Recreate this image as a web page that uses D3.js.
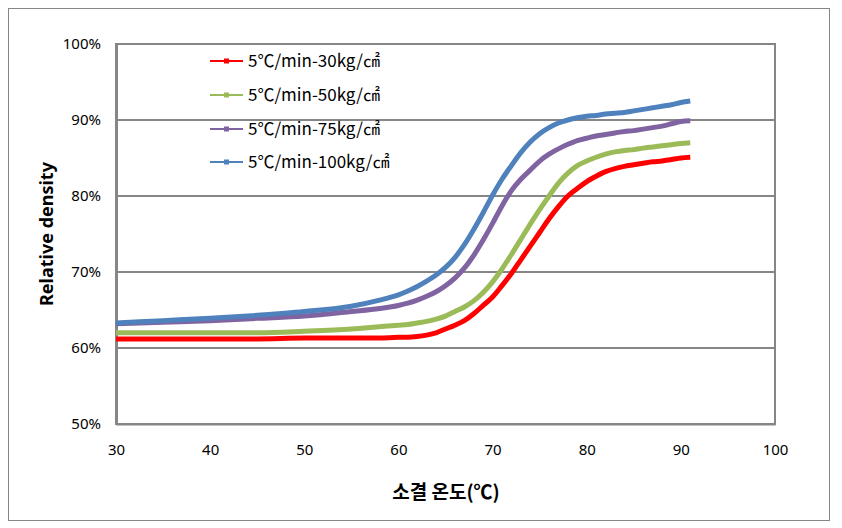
<!DOCTYPE html>
<html>
<head>
<meta charset="utf-8">
<script src="https://cdn.jsdelivr.net/npm/d3@7"></script>
<style>
  html, body { margin: 0; padding: 0; background: #fff; }
  svg { display: block; }
  text { font-family: "Noto Sans CJK KR", "Noto Sans", sans-serif; fill: #000; }
</style>
</head>
<body>
<svg id="chart" width="842" height="528"></svg>
<script>
// ---- data ----
const temps = [30,35,40,45,50,55,58,60,61,62,63,64,65,66,67,68,69,70,71,72,73,74,75,76,77,78,79,80,81,82,83,84,85,86,87,88,89,90,91];
const series30 = [61.2,61.2,61.2,61.2,61.3,61.3,61.3,61.4,61.4,61.5,61.7,62.0,62.5,63.0,63.6,64.5,65.6,66.7,68.2,69.8,71.6,73.4,75.2,77.0,78.6,80.0,81.0,81.9,82.6,83.2,83.6,83.9,84.1,84.3,84.5,84.6,84.8,85.0,85.1];
const series50 = [62.0,62.0,62.0,62.0,62.2,62.5,62.8,63.0,63.1,63.3,63.5,63.8,64.2,64.8,65.4,66.2,67.3,68.7,70.4,72.3,74.3,76.3,78.2,80.0,81.7,83.0,84.0,84.6,85.1,85.5,85.8,86.0,86.1,86.3,86.45,86.6,86.75,86.9,87.0];
const series75 = [63.2,63.4,63.6,63.9,64.2,64.8,65.2,65.6,65.9,66.3,66.8,67.4,68.2,69.2,70.5,72.2,74.2,76.4,78.7,80.7,82.2,83.4,84.6,85.5,86.2,86.8,87.3,87.6,87.9,88.1,88.3,88.5,88.6,88.8,89.0,89.2,89.5,89.8,89.9];
const series100 = [63.3,63.6,63.9,64.3,64.8,65.5,66.3,67.0,67.5,68.1,68.8,69.6,70.6,71.9,73.6,75.6,77.8,80.1,82.2,84.0,85.7,87.1,88.2,89.0,89.6,90.0,90.3,90.5,90.6,90.8,90.9,91.0,91.2,91.4,91.6,91.8,92.0,92.3,92.5];
const seriesNames = ["5℃/min-30kg/㎠","5℃/min-50kg/㎠","5℃/min-75kg/㎠","5℃/min-100kg/㎠"];
const seriesColors = ["#FF0000","#9BBB59","#8064A2","#4F81BD"];
const xTicks = [30,40,50,60,70,80,90,100];
const yTicks = [50,60,70,80,90,100];
const xTitle = "소결 온도(℃)";
const yTitle = "Relative density";

const allSeries = [series30, series50, series75, series100];

const svg = d3.select("#chart");

// outer border
svg.append("rect").attr("x", 8.5).attr("y", 8.5).attr("width", 821).attr("height", 512)
  .attr("fill", "#fff").attr("stroke", "#868686").attr("stroke-width", 1);

const x = d3.scaleLinear().domain([30, 100]).range([116, 775]);
const y = d3.scaleLinear().domain([50, 100]).range([424, 44]);

// gridlines
svg.append("g").selectAll("line").data(yTicks).join("line")
  .attr("x1", x(30)).attr("x2", x(100))
  .attr("y1", d => y(d)).attr("y2", d => y(d))
  .attr("stroke", "#868686").attr("stroke-width", 2);

// plot border
svg.append("rect").attr("x", x(30)).attr("y", y(100))
  .attr("width", x(100) - x(30)).attr("height", y(50) - y(100))
  .attr("fill", "none").attr("stroke", "#868686").attr("stroke-width", 2);

// y axis
const yAxis = svg.append("g").attr("transform", `translate(${x(30)},0)`)
  .call(d3.axisLeft(y).tickValues(yTicks).tickSize(0).tickPadding(15).tickFormat(d => d + "%"));
yAxis.select(".domain").attr("stroke", "#868686").attr("stroke-width", 3);
yAxis.selectAll("text").style("font-size", "15px").style("font-family", '"Noto Sans", sans-serif');

// x axis
const xAxis = svg.append("g").attr("transform", `translate(0,${y(50)})`)
  .call(d3.axisBottom(x).tickValues(xTicks).tickSize(0).tickPadding(20).tickFormat(d3.format("d")));
xAxis.select(".domain").attr("stroke", "#868686").attr("stroke-width", 2);
xAxis.selectAll("text").style("font-size", "15px").style("font-family", '"Noto Sans", sans-serif');

// lines
const line = d3.line().x((d, i) => x(temps[i])).y(d => y(d)).curve(d3.curveMonotoneX);
svg.append("g").selectAll("path").data(allSeries).join("path")
  .attr("d", d => line(d))
  .attr("fill", "none")
  .attr("stroke", (d, i) => seriesColors[i])
  .attr("stroke-width", 5)
  .attr("stroke-linejoin", "miter");

// legend
const legendY = [61, 95, 129, 162];
const lg = svg.append("g");
seriesNames.forEach((name, i) => {
  const g = lg.append("g").attr("transform", `translate(0,${legendY[i]})`);
  g.append("line").attr("x1", 210).attr("x2", 243).attr("y1", 0).attr("y2", 0)
    .attr("stroke", seriesColors[i]).attr("stroke-width", 2);
  g.append("rect").attr("x", 224).attr("y", -2.5).attr("width", 5).attr("height", 5)
    .attr("fill", seriesColors[i]);
  g.append("text").attr("x", 248).attr("y", 0).attr("dy", "0.35em")
    .style("font-size", "17px").text(name);
});

// axis titles
svg.append("text").attr("transform", `translate(47,234) rotate(-90)`)
  .attr("text-anchor", "middle").attr("dy", "0.35em")
  .style("font-size", "18px").style("font-weight", "bold").style("font-family", '"Noto Sans", sans-serif')
  .text(yTitle);
svg.append("text").attr("x", 446).attr("y", 492).attr("text-anchor", "middle").attr("dy", "0.35em")
  .style("font-size", "19px").style("font-weight", "bold")
  .text(xTitle);
</script>
</body>
</html>
